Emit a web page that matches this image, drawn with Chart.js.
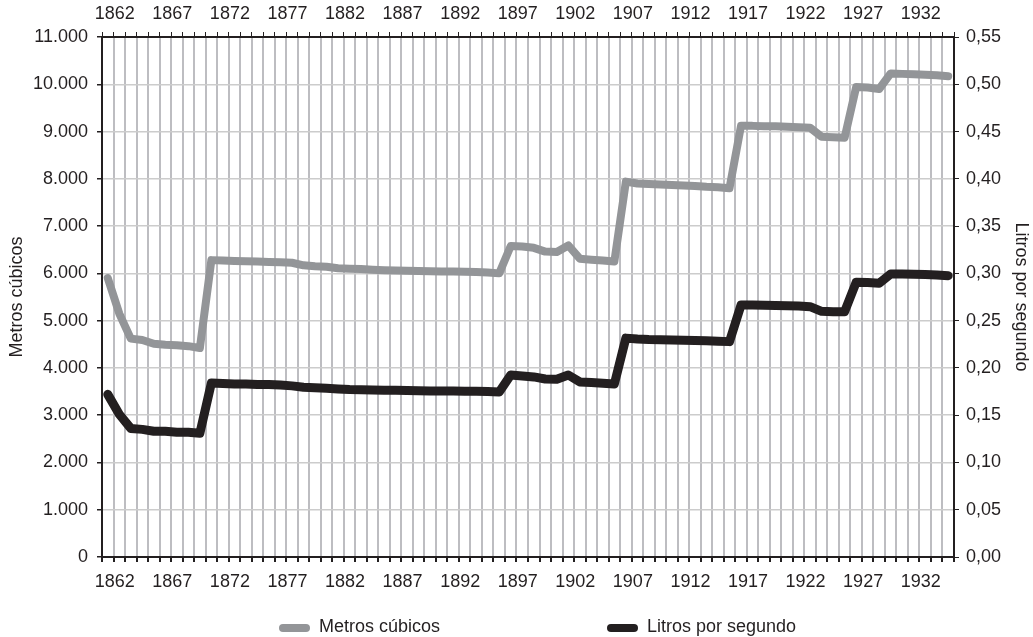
<!DOCTYPE html>
<html>
<head>
<meta charset="utf-8">
<script src="https://cdn.jsdelivr.net/npm/chart.js@4"></script>
<style>
  body { margin: 0; background: #fff; }
  #wrap { position: relative; width: 1033px; height: 637px; }
  .leg { position: absolute; top: 616px; font: 18px "Liberation Sans", Arial, sans-serif; color: #231f20; white-space: nowrap; }
  .sw { display: inline-block; width: 31px; height: 8px; border-radius: 4px; vertical-align: middle; margin-right: 9px; position: relative; top: 1px; }
</style>
</head>
<body>
<div id="wrap">
  <canvas id="chart" width="1033" height="637"></canvas>
  <div class="leg" style="left:279px"><span class="sw" style="background:#939598"></span>Metros cúbicos</div>
  <div class="leg" style="left:607px"><span class="sw" style="background:#231f20"></span>Litros por segundo</div>
</div>
<script>
const years = [
  '1862', '1863', '1864', '1865', '1866', '1867', '1868', '1869', '1870', '1871',
  '1872', '1873', '1874', '1875', '1876', '1877', '1878', '1879', '1880', '1881',
  '1882', '1883', '1884', '1885', '1886', '1887', '1888', '1889', '1890', '1891',
  '1892', '1893', '1894', '1895', '1896', '1897', '1898', '1899', '1900', '1901',
  '1902', '1903', '1904', '1905', '1906', '1907', '1908', '1909', '1910', '1911',
  '1912', '1913', '1914', '1915', '1916', '1917', '1918', '1919', '1920', '1921',
  '1922', '1923', '1924', '1925', '1926', '1927', '1928', '1929', '1930', '1931',
  '1932', '1933', '1934', '1935'
];

// metros cúbicos (eje izquierdo)
const metrosCubicos = [
  5900, 5150, 4620, 4590, 4510, 4490, 4480, 4460, 4420, 6280,
  6270, 6260, 6255, 6250, 6240, 6235, 6225, 6170, 6150, 6140,
  6110, 6100, 6090, 6075, 6065, 6060, 6055, 6050, 6045, 6040,
  6040, 6035, 6030, 6020, 6000, 6580, 6570, 6540, 6460, 6450,
  6590, 6310, 6290, 6270, 6250, 7940, 7900, 7890, 7880, 7870,
  7860, 7850, 7830, 7820, 7800, 9120, 9120, 9110, 9110, 9100,
  9090, 9080, 8890, 8880, 8870, 9940, 9930, 9900, 10230, 10220,
  10210, 10200, 10190, 10170
];

// litros por segundo (eje derecho)
const litrosPorSegundo = [
  0.172, 0.151, 0.136, 0.135, 0.133, 0.133, 0.132, 0.132, 0.131, 0.184,
  0.1835, 0.183, 0.183, 0.1825, 0.1825, 0.182, 0.181, 0.1795, 0.179, 0.1785,
  0.1778, 0.1772, 0.177, 0.1767, 0.1765, 0.1763, 0.176, 0.1758, 0.1757, 0.1755,
  0.1755, 0.1753, 0.1752, 0.175, 0.1745, 0.1925, 0.1915, 0.1905, 0.1883, 0.188,
  0.1925, 0.1852, 0.1845, 0.1837, 0.183, 0.2315, 0.2305, 0.23, 0.2298, 0.2295,
  0.2293, 0.229, 0.2287, 0.2283, 0.2278, 0.2665, 0.2665, 0.2663, 0.266, 0.2658,
  0.2655, 0.2648, 0.2598, 0.2595, 0.2595, 0.2905, 0.2903, 0.2895, 0.2993, 0.2992,
  0.299, 0.2988, 0.2983, 0.2975
];

const leftMax = 11000, leftStep = 1000;
const rightMax = 0.55, rightStep = 0.05;
const labelEvery = 5;

const font = { family: '"Liberation Sans", Arial, sans-serif', size: 18 };
const dark = '#231f20';

function miles(v) {
  return String(Math.round(v)).replace(/\B(?=(\d{3})+(?!\d))/g, '.');
}
function yearTick(val, i) {
  return i % labelEvery === 0 ? years[i] : '';
}

const ctx = document.getElementById('chart').getContext('2d');
new Chart(ctx, {
  type: 'line',
  data: {
    labels: years,
    datasets: [{
      label: 'Metros cúbicos',
      data: metrosCubicos,
      yAxisID: 'y',
      borderColor: '#939598',
      borderWidth: 8,
      borderCapStyle: 'round',
      borderJoinStyle: 'round',
      pointRadius: 0,
      tension: 0
    }, {
      label: 'Litros por segundo',
      data: litrosPorSegundo,
      yAxisID: 'y1',
      borderColor: dark,
      borderWidth: 9,
      borderCapStyle: 'round',
      borderJoinStyle: 'round',
      pointRadius: 0,
      tension: 0
    }]
  },
  options: {
    responsive: false,
    animation: false,
    layout: { padding: 0 },
    plugins: {
      legend: { display: false },
      tooltip: { enabled: false }
    },
    scales: {
      x: {
        position: 'bottom',
        offset: true,
        grid: { offset: true, color: '#bdbdc1', lineWidth: 2, tickColor: dark, tickLength: 5 },
        border: { color: dark, width: 2 },
        ticks: { autoSkip: false, maxRotation: 0, color: dark, font, padding: 9, labelOffset: 7, callback: yearTick },
        afterFit: s => { s.height = 80; }
      },
      x2: {
        position: 'top',
        type: 'category',
        labels: years,
        offset: true,
        grid: { offset: true, drawOnChartArea: false, tickColor: dark, tickLength: 5 },
        border: { color: dark, width: 2 },
        ticks: { autoSkip: false, maxRotation: 0, color: dark, font, padding: 7, labelOffset: 7, callback: yearTick },
        afterFit: s => { s.height = 37; }
      },
      y: {
        position: 'left',
        min: 0,
        max: leftMax,
        grid: { color: '#cccccc', lineWidth: 1.5, tickColor: dark, tickLength: 5 },
        border: { color: dark, width: 2 },
        ticks: { stepSize: leftStep, color: dark, font, padding: 9, callback: v => miles(v) },
        title: { display: true, text: 'Metros cúbicos', color: dark, font, padding: { top: 6, bottom: 0 } },
        afterFit: s => { s.width = 102; }
      },
      y1: {
        position: 'right',
        min: 0,
        max: rightMax,
        grid: { drawOnChartArea: false, tickColor: dark, tickLength: 5 },
        border: { color: dark, width: 2 },
        ticks: { stepSize: rightStep, color: dark, font, padding: 7, callback: v => v.toFixed(2).replace('.', ',') },
        title: { display: true, text: 'Litros por segundo', color: dark, font, padding: { top: 1, bottom: 0 } },
        afterFit: s => { s.width = 79; }
      }
    }
  }
});
</script>
</body>
</html>
